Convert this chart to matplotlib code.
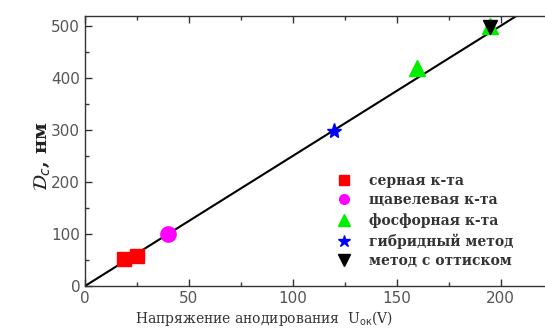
import matplotlib
matplotlib.use("Agg")
import matplotlib.pyplot as plt
from matplotlib.lines import Line2D
import numpy as np

# Anodizing voltage (V) vs. cell diameter (nm) per preparation method
sulfuric_u = [19, 25]
sulfuric_d = [51, 58]
oxalic_u = [40]
oxalic_d = [100]
phosphoric_u = [160, 195]
phosphoric_d = [420, 500]
hybrid_u = [120]
hybrid_d = [298]
imprint_u = [195]
imprint_d = [497]

# Linear fit D = k * U
fit_slope = 2.5
fit_u = [0, 220]

legend_labels = ["серная к-та", "щавелевая к-та", "фосфорная к-та",
                 "гибридный метод", "метод с оттиском"]

W, H = 545, 334
fig = plt.figure(figsize=(W / 100, H / 100), dpi=100)
x0, x1 = 85, 85 + 220 * 2.125
y_bot, y_top = 286, 16
ax = fig.add_axes([x0 / W, (H - y_bot) / H, (x1 - x0) / W, (y_bot - y_top) / H])

ax.plot(fit_u, [fit_slope * u for u in fit_u], color="black", lw=1.5, zorder=2)
ax.plot(sulfuric_u, sulfuric_d, ls="none", marker="s", ms=10, color="#ff0000", mec="#ff0000", zorder=3)
ax.plot(oxalic_u, oxalic_d, ls="none", marker="o", ms=11, color="#ff00ff", mec="#ff00ff", zorder=3)
ax.plot(phosphoric_u, phosphoric_d, ls="none", marker="^", ms=11, color="#00ee00", mec="#00ee00", zorder=3)
ax.plot(hybrid_u, hybrid_d, ls="none", marker="*", ms=11, color="#0000ff", mec="#0000ff", zorder=3)
ax.plot(imprint_u, imprint_d, ls="none", marker="v", ms=10, color="black", mec="black", zorder=4)

ax.set_xlim(0, 220)
ax.set_ylim(0, 519)
ax.set_xticks([0, 50, 100, 150, 200])
ax.set_xticks([25, 75, 125, 175, 225], minor=True)
ax.set_yticks([0, 100, 200, 300, 400, 500])
ax.set_yticks([50, 150, 250, 350, 450], minor=True)
ax.tick_params(which="both", direction="in", top=True, right=False,
               labelsize=11, labelcolor="#555555", color="#333333")
ax.tick_params(which="major", length=5, width=1)
ax.tick_params(which="minor", length=3, width=1)
ax.spines["right"].set_visible(False)
for s in ("left", "bottom", "top"):
    ax.spines[s].set_linewidth(1.0)
    ax.spines[s].set_color("#333333")

ax.set_xlabel("Напряжение анодирования  U$_{\\mathrm{ок}}$(V)",
              family=["DejaVu Serif"], fontsize=10, color="#333333")
ax.xaxis.set_label_coords((264 - x0) / (x1 - x0), -0.085)
ax.set_ylabel("$\\mathcal{D}_c$, нм", family=["DejaVu Serif"], fontsize=14,
              fontweight="bold", color="#222222")
ax.yaxis.set_label_coords(-0.07, 0.48)

handles = [
    Line2D([], [], ls="none", marker="s", ms=7, color="#ff0000"),
    Line2D([], [], ls="none", marker="o", ms=7, color="#ff00ff"),
    Line2D([], [], ls="none", marker="^", ms=8, color="#00ee00"),
    Line2D([], [], ls="none", marker="*", ms=9, color="#0000ff"),
    Line2D([], [], ls="none", marker="v", ms=8, color="black"),
]
leg = ax.legend(handles, legend_labels, frameon=False, loc="upper left",
                bbox_to_anchor=((330 - x0) / (x1 - x0), (y_bot - 168) / (y_bot - y_top)),
                prop={"family": ["DejaVu Serif"], "size": 10, "weight": "bold"},
                handlelength=1.2, handletextpad=1.2, labelspacing=0.4,
                borderaxespad=0)
for t in leg.get_texts():
    t.set_color("#333333")

fig.savefig("out.png", dpi=100)
